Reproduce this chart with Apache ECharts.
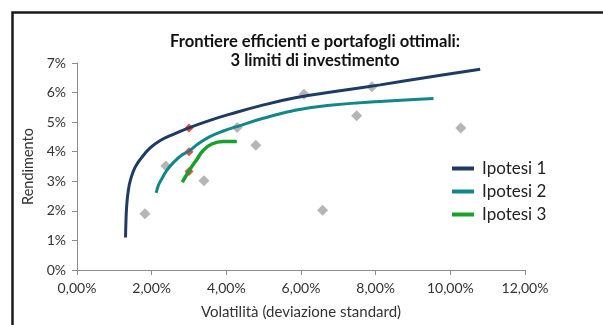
<!DOCTYPE html>
<html>
<head>
<meta charset="utf-8">
<script src="https://cdn.jsdelivr.net/npm/echarts@6/dist/echarts.min.js"></script>
<style>
  html, body { margin: 0; padding: 0; background: #fff; }
  #chart { width: 603px; height: 325px; }
</style>
</head>
<body>
<div id="chart"></div>
<script>
// Efficient frontiers: [volatility %, return %]
const frontier1 = [[1.30,1.10],[1.31,1.60],[1.33,2.15],[1.375,2.70],[1.44,3.08],[1.555,3.47],[1.73,3.80],[1.96,4.13],[2.22,4.37],[2.58,4.59],[2.98,4.80],[3.56,5.06],[4.10,5.27],[4.90,5.55],[5.88,5.83],[7.00,6.05],[8.12,6.26],[9.40,6.52],[10.80,6.79]];
const frontier2 = [[2.12,2.61],[2.18,2.86],[2.27,3.08],[2.40,3.36],[2.58,3.63],[2.80,3.88],[3.00,4.02],[3.25,4.27],[3.56,4.51],[3.92,4.70],[4.28,4.85],[4.99,5.13],[5.88,5.41],[6.78,5.57],[8.12,5.70],[9.55,5.80]];
const frontier3 = [[2.82,2.97],[3.00,3.35],[3.21,3.74],[3.38,4.04],[3.61,4.26],[3.92,4.345],[4.28,4.345]];
// Single assets
const assets = [[1.82,1.90],[2.38,3.52],[3.40,3.02],[4.29,4.82],[4.79,4.22],[6.08,5.94],[7.90,6.20],[7.49,5.22],[10.28,4.80],[6.58,2.02]];
// Optimal portfolios
const optimal = [[3.00,4.80],[3.00,4.00],[3.00,3.33]];
const seriesNames = ['Ipotesi 1','Ipotesi 2','Ipotesi 3'];
const seriesColors = ['#1F3A64','#138688','#17A02A'];

const FONT = 'Lato, "Open Sans", sans-serif';
const chart = echarts.init(document.getElementById('chart'));

function lineSeries(i, data, width) {
  return {
    name: seriesNames[i], type: 'line', data: data, smooth: 0.45,
    showSymbol: false, symbol: 'none',
    lineStyle: { color: seriesColors[i], width: width },
    itemStyle: { color: seriesColors[i] },
    z: 3
  };
}

chart.setOption({
  animation: false,
  textStyle: { fontFamily: FONT },
  title: {
    text: 'Frontiere efficienti e portafogli ottimali:\n3 limiti di investimento',
    left: 310, top: 27, textAlign: 'center',
    textStyle: { fontFamily: FONT, fontSize: 16.6, fontWeight: 'bold', color: '#111', lineHeight: 19 }
  },
  legend: {
    data: seriesNames, orient: 'vertical', left: 452, top: 160, padding: 0,
    icon: 'rect', itemWidth: 22, itemHeight: 4, itemGap: 6,
    textStyle: { fontFamily: FONT, fontSize: 17, color: '#222', lineHeight: 17, padding: [0,0,0,3] }
  },
  grid: { left: 77, right: 78, top: 63, bottom: 50 },
  xAxis: {
    type: 'value', min: 0, max: 12, interval: 2,
    name: 'Volatilità (deviazione standard)', nameLocation: 'middle', nameGap: 35,
    nameTextStyle: { fontFamily: FONT, fontSize: 15, color: '#333' },
    axisLine: { show: true, lineStyle: { color: '#8c8c8c', width: 1 } },
    axisTick: { show: true, length: 5, lineStyle: { color: '#8c8c8c' } },
    splitLine: { show: false },
    axisLabel: { fontFamily: FONT, fontSize: 14, color: '#333', margin: 11,
      formatter: v => v.toFixed(2).replace('.', ',') + '%' }
  },
  yAxis: {
    type: 'value', min: 0, max: 7, interval: 1,
    name: 'Rendimento', nameLocation: 'middle', nameGap: 37,
    nameTextStyle: { fontFamily: FONT, fontSize: 14.5, color: '#333' },
    axisLine: { show: true, lineStyle: { color: '#8c8c8c', width: 1 } },
    axisTick: { show: true, length: 5, lineStyle: { color: '#8c8c8c' } },
    splitLine: { show: false },
    axisLabel: { fontFamily: FONT, fontSize: 14, color: '#333', margin: 11,
      formatter: v => v + '%' }
  },
  graphic: [{
    type: 'rect', silent: true, z: 100,
    shape: { x: 12.5, y: 12.5, width: 700, height: 400 },
    style: { fill: 'none', stroke: '#1a1a1a', lineWidth: 2.5 }
  }],
  series: [
    {
      name: 'assets', type: 'scatter', data: assets, symbol: 'diamond', symbolSize: 11,
      itemStyle: { color: '#a3a3a3' }, z: 2
    },
    {
      name: 'optimal', type: 'scatter', data: optimal, symbol: 'diamond', symbolSize: 9,
      itemStyle: { color: '#ff1a1a' }, z: 2
    },
    lineSeries(0, frontier1, 3),
    lineSeries(1, frontier2, 3),
    lineSeries(2, frontier3, 3.5)
  ]
});
</script>
</body>
</html>
